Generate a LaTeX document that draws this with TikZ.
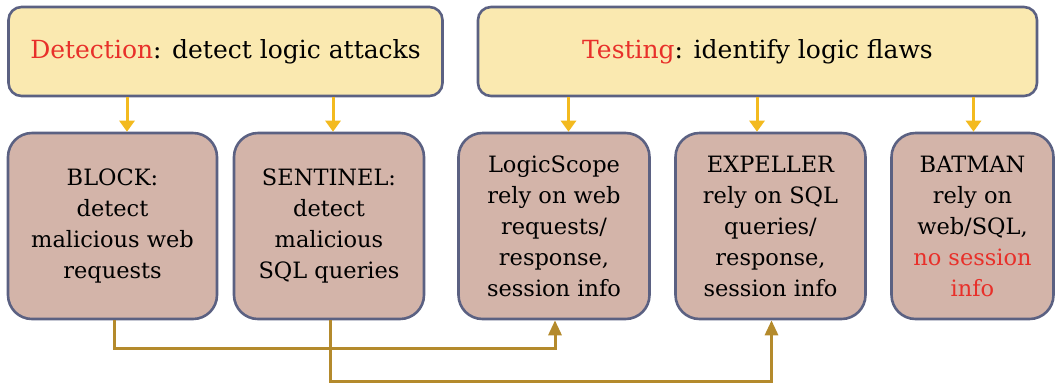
\documentclass[tikz,border=0pt]{standalone}
\usepackage{fontspec}
\setmainfont{DejaVu Serif}
\usetikzlibrary{arrows.meta}
\definecolor{topfill}{HTML}{FAE9B0}
\definecolor{botfill}{HTML}{D3B4A9}
\definecolor{edge}{HTML}{5B6182}
\definecolor{gold}{HTML}{F3BA1F}
\definecolor{dgold}{HTML}{B48A2C}
\definecolor{myred}{HTML}{E8302A}
\tikzset{
  topbox/.style={draw=edge, line width=2.6pt, fill=topfill, rounded corners=13pt, inner sep=0pt, font=\fontsize{25}{30}\selectfont},
  botbox/.style={draw=edge, line width=2.6pt, fill=botfill, rounded corners=24pt, inner sep=0pt, align=center, font=\fontsize{22.5}{31}\selectfont},
  toparrow/.style={draw=gold, line width=3pt, -{Triangle[length=11pt,width=15pt]}},
  botarrow/.style={draw=dgold, line width=3pt, -{Triangle[length=15pt,width=13pt]}},
}
\begin{document}
\begin{tikzpicture}[x=1pt,y=-1pt]
\useasboundingbox (0,0) rectangle (1055,384);
\node[topbox, minimum width=434pt, minimum height=89pt] (det) at (225.5,51.5) {\textcolor{myred}{Detection}: detect logic attacks};
\node[topbox, minimum width=559pt, minimum height=89pt] (test) at (757.5,51.5) {\textcolor{myred}{Testing}: identify logic flaws};

\node[botbox, minimum width=209pt, minimum height=186pt] (block) at (112.5,226) {BLOCK:\\detect\\malicious web\\requests};
\node[botbox, minimum width=190pt, minimum height=186pt] (sentinel) at (329,226) {SENTINEL:\\detect\\malicious\\SQL queries};
\node[botbox, minimum width=191pt, minimum height=186pt] (logic) at (554,226) {LogicScope\\rely on web\\requests/\\response,\\session info};
\node[botbox, minimum width=190pt, minimum height=186pt] (expeller) at (770.5,226) {EXPELLER\\rely on SQL\\queries/\\response,\\session info};
\node[botbox, minimum width=162pt, minimum height=186pt] (batman) at (972.5,226) {BATMAN\\rely on\\web/SQL,\\\textcolor{myred}{no session}\\\textcolor{myred}{info}};

\draw[toparrow] (det.south -| 127,0) -- (block.north -| 127,0);
\draw[toparrow] (det.south -| 333,0) -- (sentinel.north -| 333,0);
\draw[toparrow] (test.south -| 568.5,0) -- (logic.north -| 568.5,0);
\draw[toparrow] (test.south -| 757,0) -- (expeller.north -| 757,0);
\draw[toparrow] (test.south -| 973.5,0) -- (batman.north -| 973.5,0);

\coordinate (c1) at (114,348);
\coordinate (c2) at (330,381);
\draw[botarrow] (block.south -| c1) -- (c1) -| (logic.south -| 555,0);
\draw[botarrow] (sentinel.south -| c2) -- (c2) -| (expeller.south -| 771.5,0);
\end{tikzpicture}
\end{document}
